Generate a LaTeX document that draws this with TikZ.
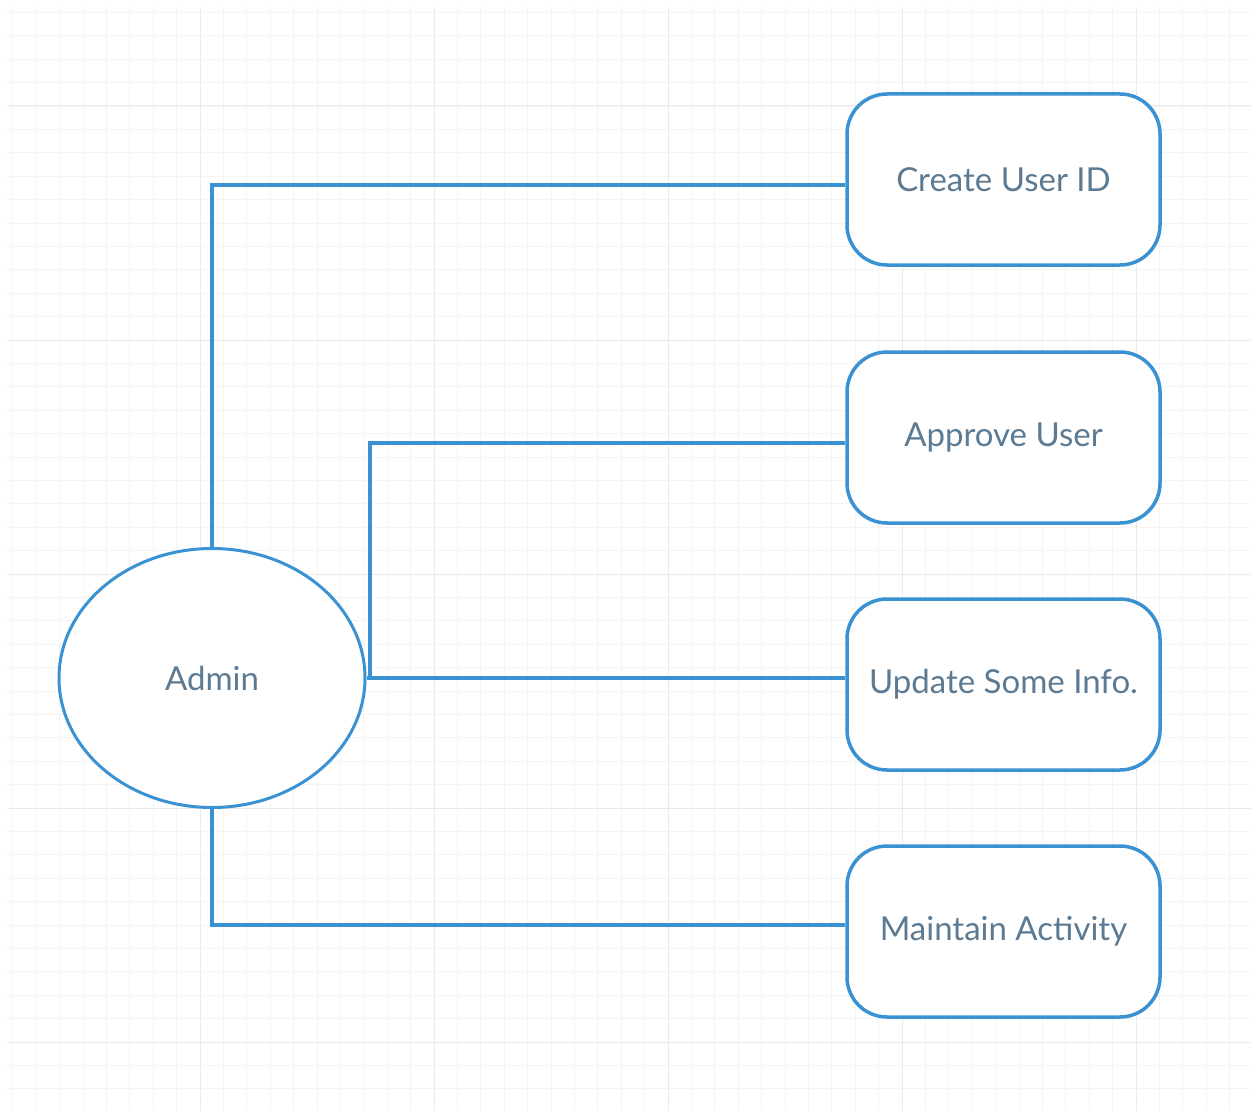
\documentclass[tikz,border=0pt]{standalone}
\usepackage{fontspec}
\setmainfont{Lato}
\usetikzlibrary{shapes.geometric}
\definecolor{lineblue}{RGB}{58,146,210}
\definecolor{txtgray}{RGB}{92,122,146}
\definecolor{gridminor}{RGB}{244,244,244}
\definecolor{gridmajor}{RGB}{234,234,234}
\begin{document}
\begin{tikzpicture}[x=1pt,y=-1pt,
  task/.style={draw=lineblue,line width=3.5pt,rounded corners=40pt,fill=white,
    minimum width=313pt,minimum height=171pt,inner sep=0pt,
    text=txtgray,font=\fontsize{33}{38}\selectfont},
  actor/.style={draw=lineblue,line width=3pt,ellipse,fill=white,
    minimum width=306pt,minimum height=259pt,inner sep=0pt,
    text=txtgray,font=\fontsize{33}{38}\selectfont},
  link/.style={draw=lineblue,line width=3.5pt}]
\useasboundingbox (0,0) rectangle (1258,1118);
\fill[white] (0,0) rectangle (1258,1118);
\begin{scope}
\clip (7,7) rectangle (1251,1111);
\foreach \i in {-9,...,44} {
  \draw[gridminor,line width=0.8pt] ({200+23.4*\i},7) -- ({200+23.4*\i},1111);
}
\foreach \i in {-5,...,43} {
  \draw[gridminor,line width=0.8pt] (7,{106+23.4*\i}) -- (1251,{106+23.4*\i});
}
\foreach \i in {0,...,4} {
  \draw[gridmajor,line width=1pt] ({200+234*\i},7) -- ({200+234*\i},1111);
  \draw[gridmajor,line width=1pt] (7,{106+234*\i}) -- (1251,{106+234*\i});
}
\end{scope}

\node[actor] (admin) at (212,678) {Admin};
\node[task] (create) at (1003.5,179.5) {Create User ID};
\node[task] (approve) at (1003.5,437.5) {Approve User};
\node[task] (update) at (1003.5,684.5) {Update Some Info.};
\node[task] (maintain) at (1003.5,931.5) {Maintain Activity};

\coordinate (c1) at (212,185);
\coordinate (c2) at (370,443);
\coordinate (c3) at (370,678);
\coordinate (c4) at (212,925);

\draw[link] (admin.north) -- (c1) -- (create.west |- c1);
\draw[link] (c3) -- (c2) -- (approve.west |- c2);
\draw[link] (admin.east) -- (update.west |- admin.east);
\draw[link] (admin.south) -- (c4) -- (maintain.west |- c4);
\end{tikzpicture}
\end{document}
